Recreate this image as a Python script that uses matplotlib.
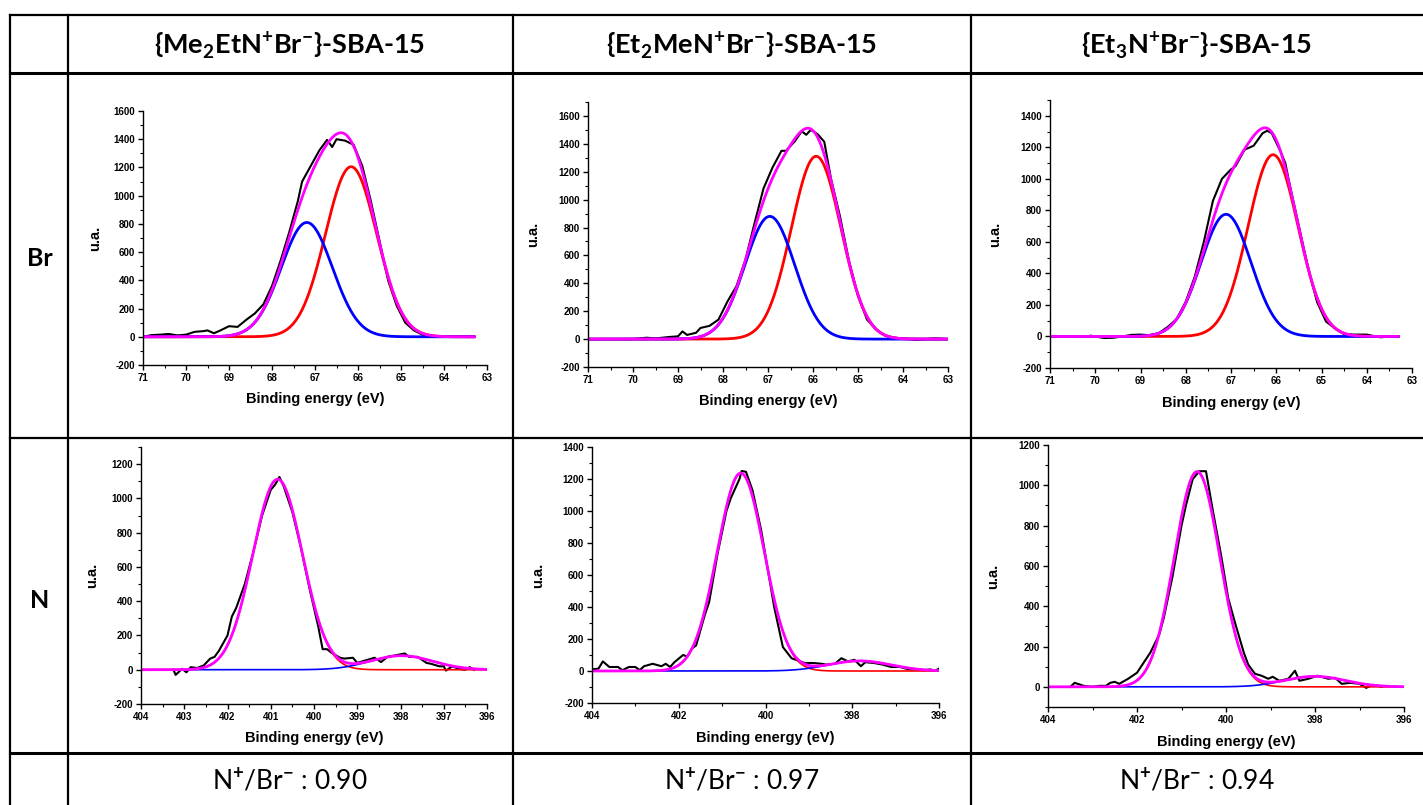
import numpy as np
import matplotlib
matplotlib.use('Agg')
import matplotlib.pyplot as plt
from matplotlib.lines import Line2D
from matplotlib.ticker import MultipleLocator

plt.rcParams['font.family'] = ['Liberation Sans', 'DejaVu Sans']
plt.rcParams['font.weight'] = 'bold'
plt.rcParams['axes.unicode_minus'] = False
plt.rcParams['mathtext.fontset'] = 'custom'
plt.rcParams['mathtext.rm'] = 'Lato'
plt.rcParams['mathtext.bf'] = 'Lato:bold'

FIG_W, FIG_H = 1423, 805

SAMPLES = [r'{Me$_\mathbf{2}$EtN$^\mathbf{+}$Br$^\mathbf{-}$}-SBA-15',
           r'{Et$_\mathbf{2}$MeN$^\mathbf{+}$Br$^\mathbf{-}$}-SBA-15',
           r'{Et$_\mathbf{3}$N$^\mathbf{+}$Br$^\mathbf{-}$}-SBA-15']
ROW_NAMES = ['Br', 'N']
RATIOS = ['0.90', '0.97', '0.94']

# ---- Br 3d spectra: binding energy (eV), counts ----
BR1_E = [71.0, 70.8, 70.6, 70.4, 70.2, 70.0, 69.8, 69.6, 69.5, 69.35, 69.2, 69.0,
         68.8, 68.6, 68.4, 68.2, 68.0, 67.8, 67.6, 67.4, 67.3, 67.1, 66.9, 66.72,
         66.6, 66.5, 66.3, 66.1, 65.9, 65.7, 65.5, 65.3, 65.1, 64.9, 64.7, 64.5,
         64.3, 64.0, 63.7, 63.3]
BR1_I = [0, 12, 15, 20, 10, 15, 35, 40, 45, 25, 45, 75, 70, 120, 165, 230, 360,
         540, 740, 960, 1100, 1210, 1320, 1395, 1345, 1400, 1390, 1360, 1210, 960,
         680, 400, 220, 100, 45, 15, 5, 0, 0, 0]

BR2_E = [71.0, 70.5, 70.0, 69.7, 69.5, 69.2, 69.0, 68.9, 68.8, 68.6, 68.5, 68.3,
         68.1, 67.9, 67.7, 67.5, 67.3, 67.1, 66.9, 66.7, 66.6, 66.4, 66.25, 66.15,
         66.05, 65.9, 65.75, 65.6, 65.4, 65.2, 65.0, 64.8, 64.6, 64.4, 64.2, 64.0,
         63.7, 63.3, 63.0]
BR2_I = [0, 0, 0, 10, 5, 15, 20, 55, 30, 45, 80, 95, 140, 270, 380, 570, 830,
         1080, 1230, 1350, 1350, 1420, 1490, 1465, 1500, 1470, 1415, 1150, 880,
         560, 310, 140, 70, 25, 10, 5, -5, 5, 0]

BR3_E = [70.2, 70.1, 69.8, 69.6, 69.4, 69.2, 69.0, 68.8, 68.6, 68.4, 68.2, 68.0,
         67.8, 67.6, 67.4, 67.2, 67.0, 66.9, 66.7, 66.5, 66.3, 66.2, 66.1, 65.9,
         65.8, 65.7, 65.5, 65.3, 65.1, 64.9, 64.7, 64.5, 64.3, 64.0, 63.8, 63.7,
         63.4]
BR3_I = [0, 5, -10, -8, 0, 10, 12, 8, 20, 60, 110, 220, 380, 600, 860, 1000,
         1060, 1080, 1185, 1210, 1290, 1305, 1290, 1170, 1100, 960, 700, 440, 220,
         95, 50, 15, 12, 12, 0, -5, 0]

# ---- N 1s spectra ----
N1_E = [403.25, 403.2, 403.05, 402.95, 402.85, 402.7, 402.55, 402.4, 402.3, 402.2,
        402.0, 401.9, 401.8, 401.6, 401.4, 401.2, 401.0, 400.9, 400.8, 400.7,
        400.5, 400.3, 400.1, 400.0, 399.9, 399.8, 399.7, 399.6, 399.4, 399.3,
        399.1, 399.0, 398.8, 398.6, 398.45, 398.3, 398.1, 397.9, 397.8, 397.6,
        397.4, 397.3, 397.1, 397.0, 396.95, 396.8, 396.65, 396.5, 396.4, 396.3]
N1_I = [0, -30, 5, -15, 15, 10, 25, 65, 75, 110, 200, 310, 360, 500, 690, 900,
        1050, 1080, 1125, 1070, 920, 710, 470, 360, 250, 120, 120, 100, 70, 65,
        70, 40, 55, 70, 45, 75, 85, 95, 75, 75, 40, 35, 20, 20, -5, 20, 5, 0, 15, 0]

N2_E = [404.0, 403.85, 403.75, 403.6, 403.4, 403.3, 403.15, 403.0, 402.9, 402.8,
        402.6, 402.4, 402.3, 402.2, 402.1, 401.9, 401.8, 401.7, 401.6, 401.4,
        401.3, 401.1, 400.9, 400.8, 400.7, 400.6, 400.55, 400.45, 400.3, 400.1,
        400.0, 399.8, 399.6, 399.4, 399.2, 399.1, 398.9, 398.7, 398.6, 398.4,
        398.25, 398.1, 397.95, 397.8, 397.7, 397.5, 397.3, 397.1, 396.9, 396.7,
        396.5, 396.35, 396.2, 396.1, 396.0]
N2_I = [10, 15, 60, 25, 25, 5, 25, 25, 5, 30, 45, 30, 45, 25, 55, 100, 90, 140,
        160, 350, 430, 740, 1000, 1080, 1140, 1200, 1250, 1245, 1130, 880, 720,
        400, 150, 80, 60, 50, 50, 45, 40, 45, 80, 60, 70, 30, 55, 50, 40, 25, 25,
        10, 10, 5, 10, 0, 15]

N3_E = [403.5, 403.4, 403.2, 403.0, 402.85, 402.7, 402.6, 402.5, 402.4, 402.2,
        402.0, 401.85, 401.7, 401.5, 401.4, 401.2, 401.0, 400.9, 400.75, 400.6,
        400.45, 400.3, 400.1, 399.95, 399.8, 399.6, 399.5, 399.35, 399.2, 399.05,
        398.95, 398.8, 398.6, 398.45, 398.35, 398.15, 397.95, 397.7, 397.55, 397.4,
        397.2, 397.0, 396.85, 396.7, 396.5]
N3_I = [0, 20, 5, 0, 5, 5, 20, 25, 15, 40, 70, 120, 170, 260, 340, 550, 800, 900,
        1030, 1070, 1070, 880, 640, 440, 320, 170, 110, 65, 55, 40, 50, 30, 40, 80,
        30, 40, 55, 40, 45, 15, 20, 15, -5, 10, 0]

# fitted components (centre eV, height, fwhm eV): red first, blue second
BR1_PEAKS = [(66.16, 1205, 1.4), (67.19, 810, 1.4)]
BR2_PEAKS = [(65.93, 1311, 1.3), (66.96, 880, 1.3)]
BR3_PEAKS = [(66.07, 1153, 1.3), (67.11, 775, 1.3)]
N1_PEAKS = [(400.84, 1112, 1.35), (397.98, 82, 1.7)]
N2_PEAKS = [(400.57, 1237, 1.27), (397.83, 63, 1.7)]
N3_PEAKS = [(400.65, 1068, 1.2), (398.0, 52, 1.6)]


def gauss(x, centre, height, fwhm):
    return height * np.exp(-4 * np.log(2) * ((x - centre) / fwhm) ** 2)


# axes box in pixels (left, top, right, bottom), fit range, y range, x step,
# label centres in pixels (ylabel x, xlabel y)
PANELS = [
    dict(E=BR1_E, I=BR1_I, peaks=BR1_PEAKS, box=(143, 111, 487, 365),
         xlim=(71, 63), fit=(71, 63.3), ylim=(-200, 1600), xstep=1, lab=(95, 399), lw=2.0),
    dict(E=BR2_E, I=BR2_I, peaks=BR2_PEAKS, box=(588, 102, 948, 367),
         xlim=(71, 63), fit=(71, 63.0), ylim=(-200, 1700), xstep=1, lab=(533, 401), lw=2.0),
    dict(E=BR3_E, I=BR3_I, peaks=BR3_PEAKS, box=(1050, 100, 1412, 368),
         xlim=(71, 63), fit=(71, 63.3), ylim=(-200, 1500), xstep=1, lab=(995, 403), lw=2.0),
    dict(E=N1_E, I=N1_I, peaks=N1_PEAKS, box=(141, 447, 487, 704),
         xlim=(404, 396), fit=(404, 396), ylim=(-200, 1300), xstep=1, lab=(92, 738), lw=1.2),
    dict(E=N2_E, I=N2_I, peaks=N2_PEAKS, box=(592, 447, 939, 703),
         xlim=(404, 396), fit=(404, 396), ylim=(-200, 1400), xstep=2, lab=(538, 738), lw=1.2),
    dict(E=N3_E, I=N3_I, peaks=N3_PEAKS, box=(1048, 445, 1404, 707),
         xlim=(404, 396), fit=(404, 396), ylim=(-100, 1200), xstep=2, lab=(993, 742), lw=1.2),
]


def draw_panel(fig, p):
    left, top, right, bottom = p['box']
    w, h = right - left, bottom - top
    ax = fig.add_axes([left / FIG_W, 1 - bottom / FIG_H, w / FIG_W, h / FIG_H])
    x = np.linspace(p['fit'][0], p['fit'][1], 600)
    red = gauss(x, *p['peaks'][0])
    blue = gauss(x, *p['peaks'][1])
    ax.plot(p['E'], p['I'], color='black', lw=1.5)
    ax.plot(x, red, color='#ff0000', lw=p['lw'])
    ax.plot(x, blue, color='#0000ff', lw=p['lw'])
    ax.plot(x, red + blue, color='#ff00ff', lw=2.0)
    ax.set_xlim(p['xlim'])
    ax.set_ylim(p['ylim'])
    ax.xaxis.set_major_locator(MultipleLocator(p['xstep']))
    ax.xaxis.set_minor_locator(MultipleLocator(p['xstep'] / 2))
    ax.yaxis.set_major_locator(MultipleLocator(200))
    ax.yaxis.set_minor_locator(MultipleLocator(100))
    ax.tick_params(which='major', direction='out', length=3.5, width=1, labelsize=7, pad=2)
    ax.tick_params(which='minor', direction='out', length=2, width=0.8)
    for s in ['top', 'right']:
        ax.spines[s].set_visible(False)
    for s in ['left', 'bottom']:
        ax.spines[s].set_linewidth(1.0)
    ax.set_xlabel('Binding energy (eV)', fontsize=10.5, fontweight='bold')
    ax.set_ylabel('u.a.', fontsize=10.5, fontweight='bold')
    ylab_x, xlab_y = p['lab']
    ax.xaxis.label.set_va('center')
    ax.yaxis.label.set_va('center')
    ax.xaxis.set_label_coords(0.5, (bottom - xlab_y) / h)
    ax.yaxis.set_label_coords((ylab_x - left) / w, 0.5)
    return ax


def table_line(fig, x0, y0, x1, y1, lw=1.5):
    fig.add_artist(Line2D([x0 / FIG_W, x1 / FIG_W], [1 - y0 / FIG_H, 1 - y1 / FIG_H],
                          transform=fig.transFigure, color='black', lw=lw,
                          solid_capstyle='projecting'))


fig = plt.figure(figsize=(FIG_W / 100, FIG_H / 100), dpi=100)

# table grid
for y, lw in [(15, 1.6), (73, 2.2), (438, 1.6), (753, 2.2)]:
    table_line(fig, 10, y, FIG_W, y, lw)
for x in [10, 68, 513, 971]:
    table_line(fig, x, 15, x, FIG_H + 5, 1.6)

col_centres = [290, 742, 1197]
for cx, name, ratio in zip(col_centres, SAMPLES, RATIOS):
    fig.text(cx / FIG_W, 1 - 45 / FIG_H, name, ha='center', va='center',
             fontsize=19.5, fontweight='bold', family=['Lato', 'DejaVu Sans'])
    fig.text(cx / FIG_W, 1 - 781 / FIG_H, r'N$^{+}$/Br$^{-}$ : ' + ratio,
             ha='center', va='center', fontsize=19, fontweight='normal',
             family=['Lato', 'DejaVu Sans'])

for name, cy in zip(ROW_NAMES, [258, 600]):
    fig.text(40 / FIG_W, 1 - cy / FIG_H, name, ha='center', va='center',
             fontsize=18, fontweight='bold', family=['Lato', 'DejaVu Sans'])

for p in PANELS:
    draw_panel(fig, p)

fig.savefig('out.png', dpi=100)
